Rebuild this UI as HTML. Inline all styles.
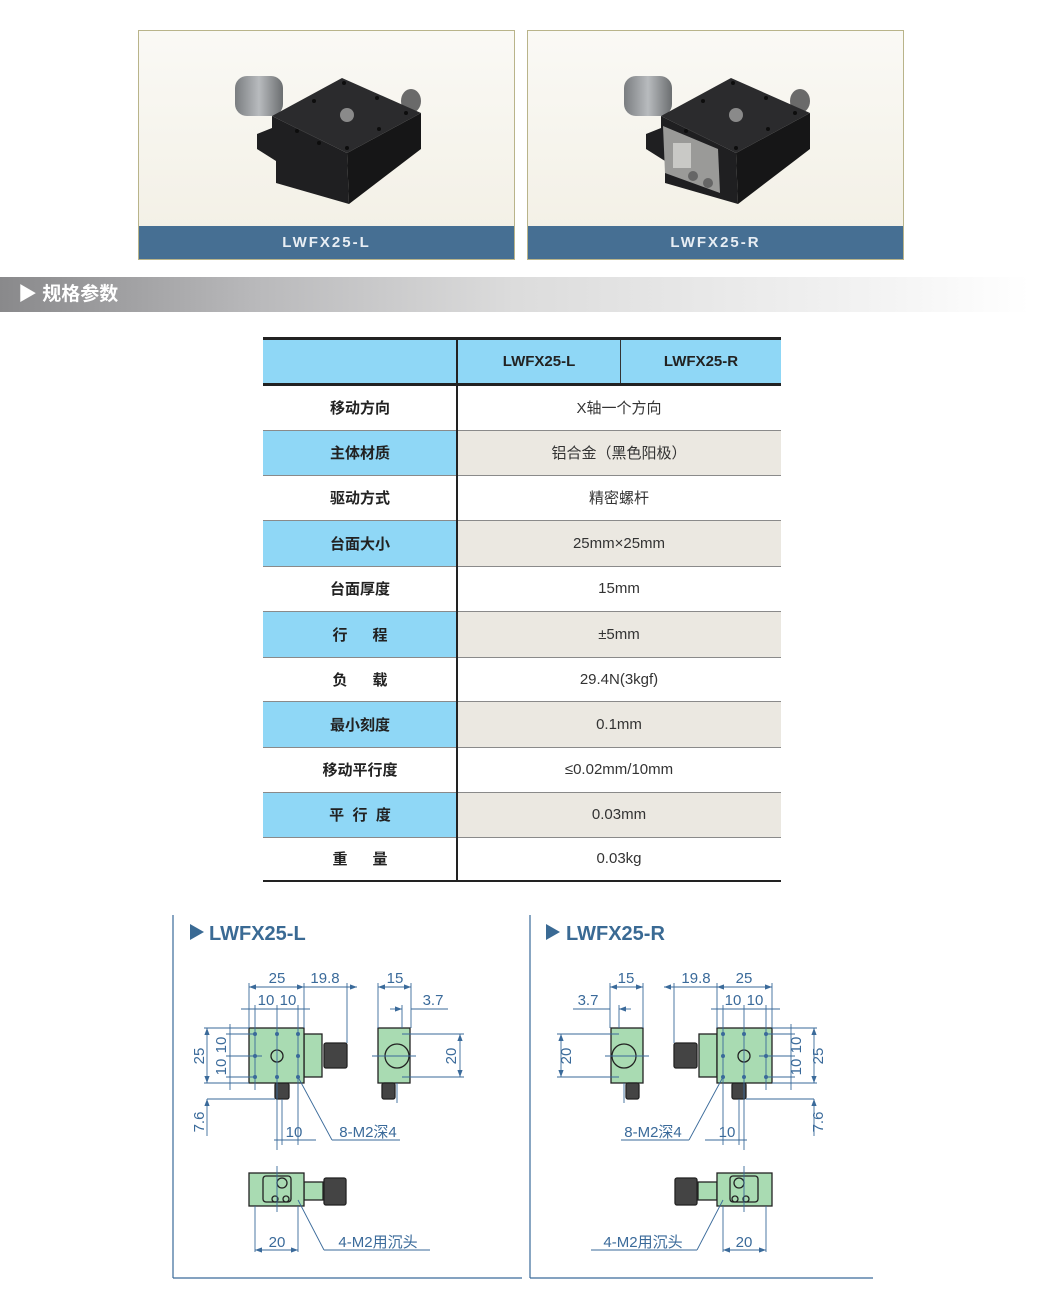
<!DOCTYPE html>
<html><head><meta charset="utf-8"><style>
body{margin:0;width:1041px;height:1306px;background:#fff;position:relative;overflow:hidden;font-family:"Liberation Sans","Noto Sans CJK SC",sans-serif}
.box{position:absolute;top:30px;width:375px;height:228px;border:1px solid #b9b48a;background:linear-gradient(#faf9f5,#f2efe4)}
.cap{position:absolute;left:0;right:0;bottom:0;height:33px;background:#466f93;color:#e8eef4;font-weight:bold;font-size:15px;letter-spacing:2px;text-align:center;line-height:33px}
.sec{position:absolute;left:0;top:277px;width:1030px;height:35px;background:linear-gradient(90deg,#89898b 0%,#b9b9bb 25%,#dcdcdc 50%,#f3f3f3 85%,#fff 100%);color:#fff;font-weight:bold;font-size:19px;line-height:35px;padding-left:18px;box-sizing:border-box}
.c{position:absolute;display:flex;align-items:center;justify-content:center;font-size:15px;color:#222}
.l{left:263px;width:194px;font-weight:bold;color:#222}
.r{left:457px;width:324px;color:#333}
.hl{position:absolute;left:263px;width:518px;height:1px;background:#8a8a8a}
</style></head><body>

<div class="box" style="left:138px">
<svg width="375" height="196" style="position:absolute;left:0;top:0">
<defs><linearGradient id="kn" x1="0" x2="1"><stop offset="0" stop-color="#7a7d80"/><stop offset=".5" stop-color="#b8bbbe"/><stop offset="1" stop-color="#6b6e70"/></linearGradient></defs>
<ellipse cx="272" cy="70" rx="10" ry="12" fill="#6a6a6a"/>
<rect x="96" y="45" width="48" height="40" rx="12" fill="url(#kn)"/>
<polygon points="133,85 208,122 210,173 137,152 137,130 118,118 118,103 133,97" fill="#1f1f21"/>
<polygon points="208,122 282,82 282,118 210,173" fill="#161617"/>
<polygon points="203,47 282,82 208,122 133,85" fill="#2b2b2d"/>
<circle cx="208" cy="84" r="7" fill="#8a8a8a"/>
<g fill="#0d0d0d"><circle cx="175" cy="70" r="2"/><circle cx="238" cy="67" r="2"/><circle cx="158" cy="100" r="2"/><circle cx="267" cy="82" r="2"/><circle cx="180" cy="112" r="2"/><circle cx="240" cy="98" r="2"/><circle cx="208" cy="117" r="2"/><circle cx="205" cy="52" r="2"/></g>
</svg>
<div class="cap">LWFX25-L</div></div>

<div class="box" style="left:527px">
<svg width="375" height="196" style="position:absolute;left:0;top:0">
<ellipse cx="272" cy="70" rx="10" ry="12" fill="#6a6a6a"/>
<rect x="96" y="45" width="48" height="40" rx="12" fill="url(#kn)"/>
<polygon points="133,85 208,122 210,173 137,152 137,130 118,118 118,103 133,97" fill="#1f1f21"/>
<polygon points="208,122 282,82 282,118 210,173" fill="#161617"/>
<polygon points="203,47 282,82 208,122 133,85" fill="#2b2b2d"/>
<polygon points="135,95 190,118 192,162 137,142" fill="#9a9a98"/>
<rect x="145" y="112" width="18" height="25" fill="#c9c9c6"/>
<circle cx="165" cy="145" r="5" fill="#666"/><circle cx="180" cy="152" r="5" fill="#666"/>
<circle cx="208" cy="84" r="7" fill="#8a8a8a"/>
<g fill="#0d0d0d"><circle cx="175" cy="70" r="2"/><circle cx="238" cy="67" r="2"/><circle cx="158" cy="100" r="2"/><circle cx="267" cy="82" r="2"/><circle cx="240" cy="98" r="2"/><circle cx="208" cy="117" r="2"/><circle cx="205" cy="52" r="2"/></g>
</svg>
<div class="cap">LWFX25-R</div></div>

<div class="sec">▶ 规格参数</div>

<!-- table -->
<div style="position:absolute;left:263px;top:338px;width:518px;height:46px;background:#8fd7f6"></div>
<div style="position:absolute;left:263px;top:337px;width:518px;height:3px;background:#222"></div>
<div style="position:absolute;left:263px;top:383px;width:518px;height:3px;background:#222"></div>
<div class="c" style="left:457px;width:164px;top:340px;height:43px;font-weight:bold">LWFX25-L</div>
<div class="c" style="left:621px;width:160px;top:340px;height:43px;font-weight:bold">LWFX25-R</div>
<div style="position:absolute;left:620px;top:340px;width:1px;height:43px;background:#333"></div>

<div style="position:absolute;left:263px;top:430px;width:194px;height:45px;background:#8fd7f6"></div><div style="position:absolute;left:457px;top:430px;width:324px;height:45px;background:#ebe8e1"></div>
<div style="position:absolute;left:263px;top:520px;width:194px;height:46px;background:#8fd7f6"></div><div style="position:absolute;left:457px;top:520px;width:324px;height:46px;background:#ebe8e1"></div>
<div style="position:absolute;left:263px;top:611px;width:194px;height:46px;background:#8fd7f6"></div><div style="position:absolute;left:457px;top:611px;width:324px;height:46px;background:#ebe8e1"></div>
<div style="position:absolute;left:263px;top:701px;width:194px;height:46px;background:#8fd7f6"></div><div style="position:absolute;left:457px;top:701px;width:324px;height:46px;background:#ebe8e1"></div>
<div style="position:absolute;left:263px;top:792px;width:194px;height:45px;background:#8fd7f6"></div><div style="position:absolute;left:457px;top:792px;width:324px;height:45px;background:#ebe8e1"></div>

<div class="hl" style="top:430px"></div><div class="hl" style="top:475px"></div><div class="hl" style="top:520px"></div><div class="hl" style="top:566px"></div><div class="hl" style="top:611px"></div><div class="hl" style="top:657px"></div><div class="hl" style="top:701px"></div><div class="hl" style="top:747px"></div><div class="hl" style="top:792px"></div><div class="hl" style="top:837px"></div>
<div style="position:absolute;left:263px;top:880px;width:518px;height:2px;background:#222"></div>
<div style="position:absolute;left:456px;top:338px;width:2px;height:543px;background:#222"></div>

<div class="c l" style="top:385px;height:45px">移动方向</div><div class="c r" style="top:385px;height:45px">X轴一个方向</div>
<div class="c l" style="top:430px;height:45px">主体材质</div><div class="c r" style="top:430px;height:45px">铝合金（黑色阳极）</div>
<div class="c l" style="top:475px;height:45px">驱动方式</div><div class="c r" style="top:475px;height:45px">精密螺杆</div>
<div class="c l" style="top:520px;height:46px">台面大小</div><div class="c r" style="top:520px;height:46px">25mm×25mm</div>
<div class="c l" style="top:566px;height:45px">台面厚度</div><div class="c r" style="top:566px;height:45px">15mm</div>
<div class="c l" style="top:611px;height:46px">行&nbsp;&nbsp;&nbsp;&nbsp;&nbsp;&nbsp;程</div><div class="c r" style="top:611px;height:46px">±5mm</div>
<div class="c l" style="top:657px;height:44px">负&nbsp;&nbsp;&nbsp;&nbsp;&nbsp;&nbsp;载</div><div class="c r" style="top:657px;height:44px">29.4N(3kgf)</div>
<div class="c l" style="top:701px;height:46px">最小刻度</div><div class="c r" style="top:701px;height:46px">0.1mm</div>
<div class="c l" style="top:747px;height:45px">移动平行度</div><div class="c r" style="top:747px;height:45px">≤0.02mm/10mm</div>
<div class="c l" style="top:792px;height:45px">平&nbsp;&nbsp;行&nbsp;&nbsp;度</div><div class="c r" style="top:792px;height:45px">0.03mm</div>
<div class="c l" style="top:837px;height:43px">重&nbsp;&nbsp;&nbsp;&nbsp;&nbsp;&nbsp;量</div><div class="c r" style="top:837px;height:43px">0.03kg</div>

<svg width="1041" height="1306" style="position:absolute;left:0;top:0" font-family="Liberation Sans, Noto Sans CJK SC, sans-serif">
<defs>
<marker id="a" markerWidth="8" markerHeight="6" refX="8" refY="3" orient="auto-start-reverse"><path d="M0,0 L8,3 L0,6z" fill="#3a6a9a"/></marker>
<g id="dw">
 <g fill="#a9dbb2" stroke="#222" stroke-width="1.3">
  <rect x="304" y="1034" width="18" height="43"/>
  <rect x="324" y="1043" width="23" height="25" rx="2" fill="#444"/>
  <rect x="275" y="1083" width="14" height="16" rx="2" fill="#444"/>
  <rect x="249" y="1028" width="55" height="55"/>
  <rect x="378" y="1028" width="32" height="55"/>
  <circle cx="397" cy="1056" r="12"/>
  <rect x="382" y="1083" width="13" height="16" rx="2" fill="#444"/>
  <rect x="304" y="1182" width="19" height="18"/>
  <rect x="324" y="1178" width="22" height="27" rx="2" fill="#444"/>
  <rect x="249" y="1173" width="55" height="33"/>
  <rect x="263" y="1176" width="28" height="26" rx="3"/>
  <circle cx="282" cy="1183" r="5"/>
  <circle cx="275" cy="1199" r="3"/><circle cx="286" cy="1199" r="3"/>
  <circle cx="277" cy="1056" r="6"/>
 </g>
 <g fill="#3a6a9a"><circle cx="255" cy="1034" r="2"/><circle cx="277" cy="1034" r="2"/><circle cx="298" cy="1034" r="2"/><circle cx="255" cy="1056" r="2"/><circle cx="298" cy="1056" r="2"/><circle cx="255" cy="1077" r="2"/><circle cx="277" cy="1077" r="2"/><circle cx="298" cy="1077" r="2"/></g>
 <g stroke="#3a6a9a" stroke-width="0.9" fill="none">
  <line x1="249" y1="983" x2="249" y2="1028"/><line x1="304" y1="983" x2="304" y2="1028"/><line x1="347" y1="983" x2="347" y2="1043"/>
  <line x1="249" y1="987" x2="304" y2="987" marker-start="url(#a)" marker-end="url(#a)"/>
  <line x1="304" y1="987" x2="357" y2="987" marker-end="url(#a)"/>
  <line x1="255" y1="1005" x2="255" y2="1090"/><line x1="277" y1="1005" x2="277" y2="1150"/><line x1="298" y1="1005" x2="298" y2="1145"/>
  <line x1="241" y1="1009" x2="310" y2="1009"/>
  <line x1="204" y1="1028" x2="249" y2="1028"/><line x1="204" y1="1083" x2="249" y2="1083"/>
  <line x1="207" y1="1028" x2="207" y2="1083" marker-start="url(#a)" marker-end="url(#a)"/>
  <line x1="230" y1="1024" x2="230" y2="1090"/>
  <line x1="226" y1="1034" x2="255" y2="1034"/><line x1="226" y1="1077" x2="255" y2="1077"/><line x1="226" y1="1056" x2="262" y2="1056"/>
  <line x1="207" y1="1099" x2="275" y2="1099"/><line x1="207" y1="1099" x2="207" y2="1136" marker-start="url(#a)"/>
  <line x1="282" y1="1099" x2="282" y2="1145"/>
  <line x1="274" y1="1140" x2="316" y2="1140"/>
  <line x1="298" y1="1077" x2="332" y2="1140"/><line x1="332" y1="1140" x2="400" y2="1140"/>
  <line x1="378" y1="983" x2="378" y2="1028"/><line x1="411" y1="983" x2="411" y2="1028"/><line x1="402" y1="1005" x2="402" y2="1028"/>
  <line x1="378" y1="987" x2="411" y2="987" marker-start="url(#a)" marker-end="url(#a)"/>
  <line x1="390" y1="1009" x2="402" y2="1009" marker-end="url(#a)"/><line x1="411" y1="1009" x2="448" y2="1009"/>
  <line x1="402" y1="1034" x2="464" y2="1034"/><line x1="402" y1="1077" x2="464" y2="1077"/>
  <line x1="460" y1="1034" x2="460" y2="1077" marker-start="url(#a)" marker-end="url(#a)"/>
  <line x1="372" y1="1056" x2="416" y2="1056"/><line x1="397" y1="1083" x2="397" y2="1103"/>
  <line x1="255" y1="1206" x2="255" y2="1252"/><line x1="298" y1="1206" x2="298" y2="1252"/>
  <line x1="255" y1="1250" x2="298" y2="1250" marker-start="url(#a)" marker-end="url(#a)"/>
  <line x1="298" y1="1200" x2="324" y2="1250"/><line x1="324" y1="1250" x2="430" y2="1250"/>
  <line x1="277" y1="1166" x2="277" y2="1212"/>
 </g>
</g>
</defs>
<use href="#dw"/>
<use href="#dw" transform="translate(1021,0) scale(-1,1)"/>
<g stroke="#3a6a9a" stroke-width="1.2"><line x1="173" y1="915" x2="173" y2="1278"/><line x1="173" y1="1278" x2="522" y2="1278"/><line x1="530" y1="915" x2="530" y2="1278"/><line x1="530" y1="1278" x2="873" y2="1278"/></g>
<g fill="#3a6a94" font-weight="bold" font-size="20"><polygon points="190,924 204,932 190,940"/><text x="209" y="940">LWFX25-L</text><polygon points="546,924 560,932 546,940"/><text x="566" y="940">LWFX25-R</text></g>
<g fill="#3a6a9a" font-size="15" text-anchor="middle">
 <text x="277" y="983">25</text><text x="325" y="983">19.8</text><text x="266" y="1005">10</text><text x="288" y="1005">10</text>
 <text x="395" y="983">15</text><text x="433" y="1005">3.7</text><text x="294" y="1137">10</text><text x="368" y="1137">8-M2深4</text>
 <text x="277" y="1247">20</text><text x="378" y="1247">4-M2用沉头</text>
 <text transform="translate(204,1056) rotate(-90)">25</text><text transform="translate(226,1045) rotate(-90)">10</text><text transform="translate(226,1067) rotate(-90)">10</text>
 <text transform="translate(204,1122) rotate(-90)">7.6</text><text transform="translate(456,1056) rotate(-90)">20</text>
 <text x="744" y="983">25</text><text x="696" y="983">19.8</text><text x="755" y="1005">10</text><text x="733" y="1005">10</text>
 <text x="626" y="983">15</text><text x="588" y="1005">3.7</text><text x="727" y="1137">10</text><text x="653" y="1137">8-M2深4</text>
 <text x="744" y="1247">20</text><text x="643" y="1247">4-M2用沉头</text>
 <text transform="translate(823,1056) rotate(-90)">25</text><text transform="translate(801,1045) rotate(-90)">10</text><text transform="translate(801,1067) rotate(-90)">10</text>
 <text transform="translate(823,1122) rotate(-90)">7.6</text><text transform="translate(571,1056) rotate(-90)">20</text>
</g>
</svg>
</body></html>
